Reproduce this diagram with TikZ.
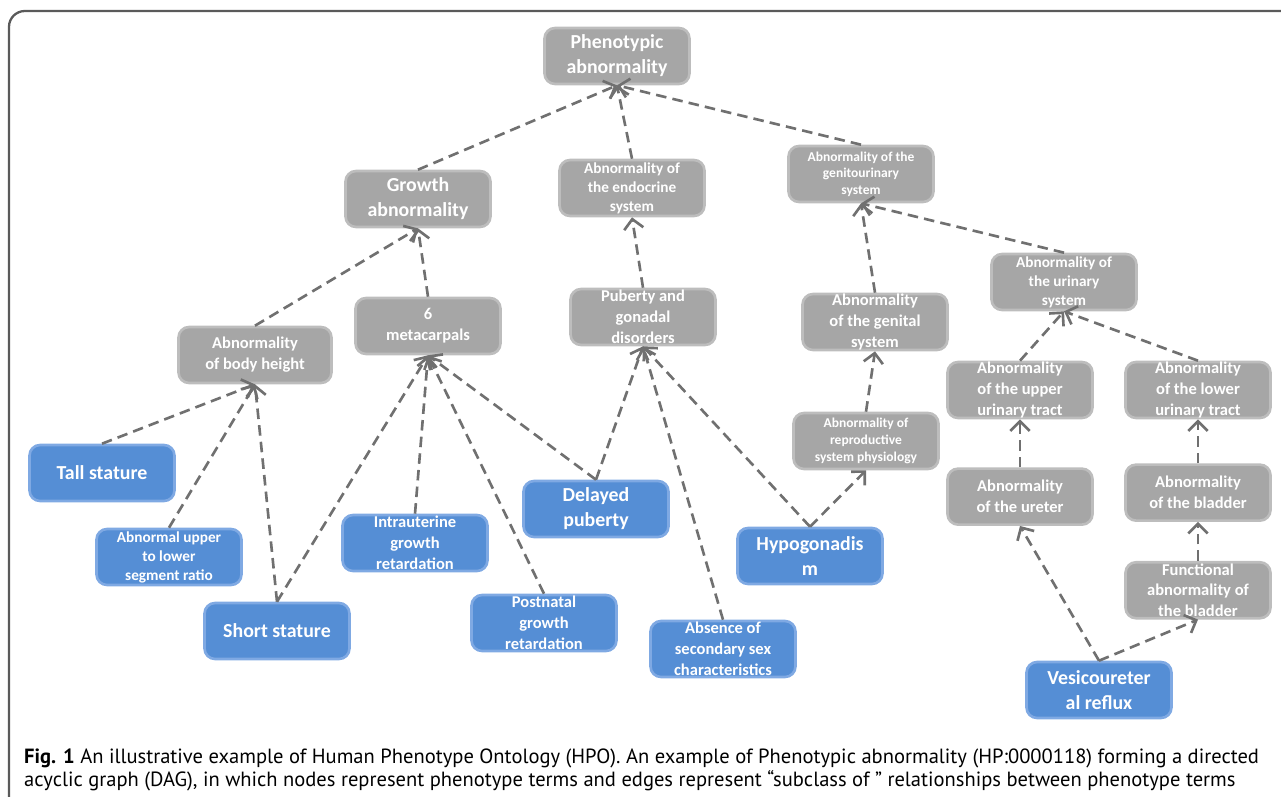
\documentclass[tikz,border=0pt]{standalone}
\usepackage{fontspec}
\setmainfont{Carlito}
\newfontfamily\capfont{PT Sans}
\usetikzlibrary{positioning, arrows.meta}
\definecolor{hpgrey}{HTML}{A6A6A6}
\definecolor{hpgreyline}{HTML}{BDBDBD}
\definecolor{hpblue}{HTML}{558ED5}
\definecolor{hpblueline}{HTML}{7FA9E3}
\definecolor{hpedge}{HTML}{707070}
\definecolor{hpframe}{HTML}{5A5A5A}

\begin{document}
\begin{tikzpicture}[x=0.02cm, y=-0.02cm,
  t/.style={rounded corners=6pt, line width=1.5pt, text=white, minimum width=2.9cm, minimum height=1.12cm, align=center, inner sep=0pt},
  g/.style={t, draw=hpgreyline, fill=hpgrey},
  b/.style={t, draw=hpblueline, fill=hpblue},
  big/.style={font=\bfseries\fontsize{11.3}{14.2}\selectfont},
  med/.style={font=\bfseries\fontsize{9.4}{11.9}\selectfont},
  small/.style={font=\bfseries\fontsize{8.7}{10.8}\selectfont},
  tiny/.style={font=\bfseries\fontsize{7.7}{9.5}\selectfont},
  isa/.style={draw=hpedge, line width=1.5pt, dash pattern=on 6pt off 3.5pt, -{Straight Barb[length=5.5pt, width=11pt]}}]
  \useasboundingbox (0,0) rectangle (1281,796);
  \clip (0,0) rectangle (1281,796);
  \draw[hpframe, line width=1.3pt, rounded corners=9pt] (9,11) rectangle (1320,840);

  % grey terms
  \node[g, big] (phen) at (617,56) {Phenotypic\\abnormality};
  \node[g, big] (grow) at (418,199) {Growth\\abnormality};
  \node[g, small] (endo) at (632,188) {Abnormality of\\the endocrine\\system};
  \node[g, tiny] (genu) at (861,174) {Abnormality of the\\genitourinary\\system};
  \node[g, med, minimum width=3.06cm] (bodyh) at (255,355) {Abnormality\\of body height};
  \node[g, med] (meta) at (428,326) {6\\metacarpals};
  \node[g, med] (pub) at (643,317) {Puberty and\\gonadal\\disorders};
  \node[g, med] (genit) at (875,322) {Abnormality\\of the genital\\system};
  \node[g, small] (urin) at (1064,282) {Abnormality of\\the urinary\\system};
  \node[g, med] (upper) at (1020,390) {Abnormality\\of the upper\\urinary tract};
  \node[g, med] (lower) at (1198,390) {Abnormality\\of the lower\\urinary tract};
  \node[g, tiny] (repro) at (866,441) {Abnormality of\\reproductive\\system physiology};
  \node[g, med, below=0.96cm of upper] (uret) {Abnormality\\of the ureter};
  \node[g, med, below=0.88cm of lower] (blad) {Abnormality\\of the bladder};
  \node[g, med, below=0.78cm of blad] (func) {Functional\\abnormality of\\the bladder};

  % blue terms
  \node[b, big] (tall) at (102,473) {Tall stature};
  \node[b, small] (ratio) at (169,557) {Abnormal upper\\to lower\\segment ratio};
  \node[b, big] (short) at (277,631) {Short stature};
  \node[b, med] (iugr) at (415,543) {Intrauterine\\growth\\retardation};
  \node[b, med] (postn) at (544,623) {Postnatal\\growth\\retardation};
  \node[b, big] (delay) at (596,509) {Delayed\\puberty};
  \node[b, med] (absec) at (723,649) {Absence of\\secondary sex\\characteristics};
  \node[b, big] (hypo) at (810,556) {Hypogonadis\\m};
  \node[b, big] (vur) at (1099,690) {Vesicoureter\\al reflux};

  % subclass-of edges
  \draw[isa] (grow.north) -- (phen.south);
  \draw[isa] (endo.north) -- (phen.south);
  \draw[isa] (genu.north) -- (phen.south);
  \draw[isa] (bodyh.north) -- (grow.south);
  \draw[isa] (meta.north) -- (grow.south);
  \draw[isa] (pub.north) -- (endo.south);
  \draw[isa] (genit.north) -- (genu.south);
  \draw[isa] (urin.north) -- (genu.south);
  \draw[isa] (tall.north) -- (bodyh.south);
  \draw[isa] (ratio.north) -- (bodyh.south);
  \draw[isa] (short.north) -- (bodyh.south);
  \draw[isa] (short.north) -- (meta.south);
  \draw[isa] (iugr.north) -- (meta.south);
  \draw[isa] (postn.north) -- (meta.south);
  \draw[isa] (delay.north) -- (meta.south);
  \draw[isa] (delay.north) -- (pub.south);
  \draw[isa] (absec.north) -- (pub.south);
  \draw[isa] (hypo.north) -- (pub.south);
  \draw[isa] (hypo.north) -- (repro.south);
  \draw[isa] (repro.north) -- (genit.south);
  \draw[isa] (upper.north) -- (urin.south);
  \draw[isa] (lower.north) -- (urin.south);
  \draw[isa] (uret.north) -- (upper.south);
  \draw[isa] (blad.north) -- (lower.south);
  \draw[isa] (func.north) -- (blad.south);
  \draw[isa] (vur.north) -- (uret.south);
  \draw[isa] (vur.north) -- (func.south);

  % caption
  \node[anchor=west, align=left, font=\capfont\fontsize{11.7}{13.1}\selectfont] (cap) at (18,770)
    {\textbf{Fig. 1} An illustrative example of Human Phenotype Ontology (HPO). An example of Phenotypic abnormality (HP:0000118) forming a directed\\
     acyclic graph (DAG), in which nodes represent phenotype terms and edges represent “subclass of ” relationships between phenotype terms};
\end{tikzpicture}
\end{document}
